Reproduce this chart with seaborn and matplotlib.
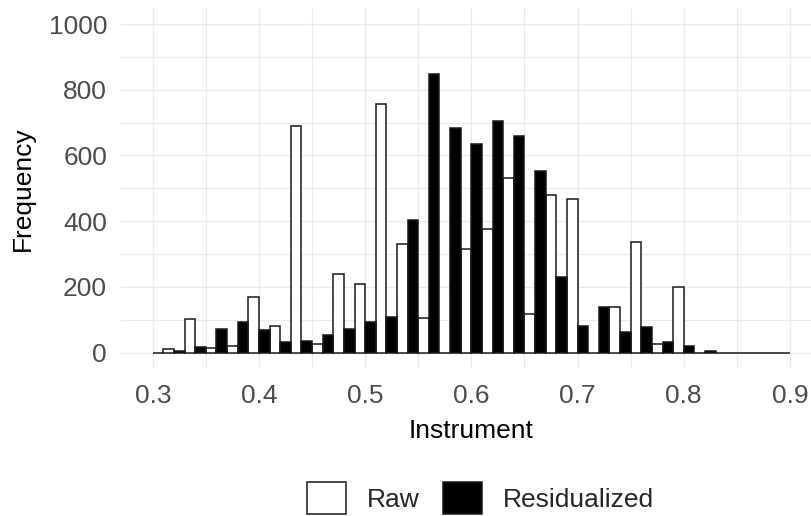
import numpy as np
import pandas as pd
import matplotlib
matplotlib.use("Agg")
import matplotlib.pyplot as plt
from matplotlib.patches import Patch
import seaborn as sns

# Histogram bins: start 0.30, width 0.02, 30 bins
bin_start = 0.30
bin_width = 0.02
n_bins = 30

raw_counts = [10, 101, 13, 20, 169, 82, 689, 26, 239, 209,
              756, 332, 107, 0, 315, 377, 530, 117, 480, 469,
              0, 138, 337, 26, 200, 0, 0, 0, 0, 0]
resid_counts = [0, 5, 16, 73, 93, 68, 31, 37, 53, 73,
                93, 108, 405, 848, 684, 634, 705, 659, 552, 231,
                82, 138, 62, 77, 31, 21, 6, 0, 0, 0]

groups = ["Raw", "Residualized"]
x_ticks = [0.3, 0.4, 0.5, 0.6, 0.7, 0.8, 0.9]
y_ticks = [0, 200, 400, 600, 800, 1000]

edges = bin_start + bin_width * np.arange(n_bins + 1)
centers = (edges[:-1] + edges[1:]) / 2

df = pd.concat([
    pd.DataFrame({"Instrument": centers, "count": raw_counts, "type": "Raw"}),
    pd.DataFrame({"Instrument": centers, "count": resid_counts, "type": "Residualized"}),
], ignore_index=True)

sns.set_theme(style="white")
plt.rcParams["font.family"] = ["Liberation Sans", "DejaVu Sans"]

fig = plt.figure(figsize=(8.11, 5.16), dpi=100)
ax = fig.add_axes([120.9 / 811, (516 - 369.1) / 516, (821.8 - 120.9) / 811, (369.1 - 7.6) / 516])

palette = {"Raw": "white", "Residualized": "black"}
sns.histplot(data=df, x="Instrument", weights="count", hue="type",
             hue_order=["Residualized", "Raw"],
             binwidth=bin_width, binrange=(bin_start, bin_start + bin_width * n_bins),
             multiple="dodge", shrink=1, palette=palette,
             edgecolor="#1a1a1a", linewidth=1.1,
             alpha=1, legend=False, ax=ax)

ax.set_xlim(0.27, 0.93)
ax.set_ylim(-50, 1050)
ax.set_xticks(x_ticks)
ax.set_xticklabels([f"{t:.1f}" for t in x_ticks])
ax.set_yticks(y_ticks)
ax.set_yticklabels([str(t) for t in y_ticks])
ax.set_xticks([0.35, 0.45, 0.55, 0.65, 0.75, 0.85], minor=True)
ax.set_yticks([100, 300, 500, 700, 900], minor=True)
ax.grid(which="major", color="#EBEBEB", linewidth=1.0)
ax.grid(which="minor", color="#EBEBEB", linewidth=0.8)
ax.set_axisbelow(True)
for s in ax.spines.values():
    s.set_visible(False)
ax.tick_params(which="both", length=0, labelsize=19, labelcolor="#4D4D4D")
ax.tick_params(axis="x", pad=11)
ax.tick_params(axis="y", pad=10)
ax.set_xlabel("Instrument", fontsize=19, color="black", labelpad=8)
ax.set_ylabel("Frequency", fontsize=19, color="black", labelpad=10)

handles = [Patch(facecolor=palette[g], edgecolor="#1a1a1a", linewidth=1.1, label=g) for g in groups]
fig.legend(handles=handles, loc="center", bbox_to_anchor=(480.5 / 811, (516 - 498) / 516),
           ncol=2, frameon=False, fontsize=19, handlelength=1.5, handleheight=1.5,
           handletextpad=0.8, columnspacing=0.85, borderpad=0)

fig.savefig("out.png", dpi=100)
